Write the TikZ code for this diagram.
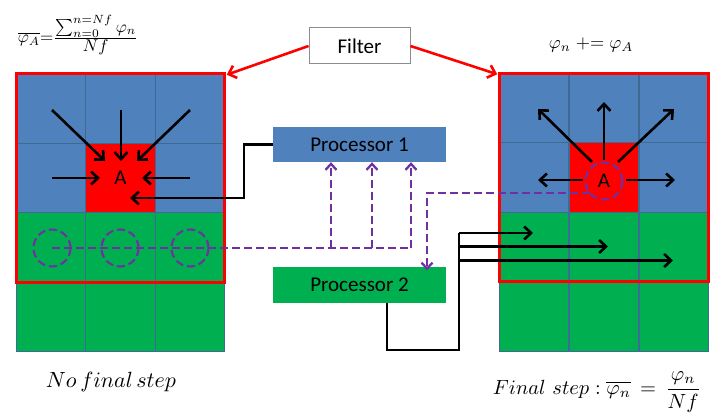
\documentclass[tikz,border=0pt]{standalone}
\usepackage{amsmath}
\usepackage{graphicx}
\usepackage{fontspec}
\newfontfamily\calfont{Carlito}
\usetikzlibrary{arrows.meta}
\definecolor{cblue}{HTML}{4F81BD}
\definecolor{cgreen}{HTML}{00B050}
\definecolor{cred}{HTML}{FF0000}
\definecolor{gridc}{HTML}{3F6A96}
\definecolor{cpurple}{HTML}{7030A0}
\definecolor{boxgray}{HTML}{8C8C8C}
\tikzset{
  cell/.style={draw=gridc, line width=1.2pt, minimum width=69.5pt, minimum height=69.5pt, inner sep=0pt, outer sep=0pt},
  barrow/.style={draw=black, line width=2.6pt, -{Straight Barb[length=7pt,width=13pt,line width=2.6pt]}},
  bline/.style={draw=black, line width=2.6pt},
  rarrow/.style={draw=cred, line width=2.6pt, -{Straight Barb[length=7pt,width=13pt,line width=2.6pt]}},
  parrow/.style={draw=cpurple, line width=2.3pt, dash pattern=on 8pt off 4pt, -{Straight Barb[length=6pt,width=11pt,line width=2.3pt]}},
  pline/.style={draw=cpurple, line width=2.3pt, dash pattern=on 8pt off 4pt},
  pcirc/.style={draw=cpurple, line width=2.1pt, dash pattern=on 8pt off 4pt, circle, minimum size=37pt, inner sep=0pt},
  procbox/.style={minimum width=173pt, minimum height=35pt, inner sep=0pt, font=\calfont\fontsize{21}{24}\selectfont},
  lab/.style={font=\calfont\fontsize{21}{24}\selectfont, inner sep=0pt},
  mathlab/.style={inner sep=0pt}
}
\begin{document}
\begin{tikzpicture}[x=1pt,y=-1pt]
\useasboundingbox (0,0) rectangle (711,419);
\fill[white] (0,0) rectangle (711,419);
% left grid
\foreach \c/\x in {1/51,2/120.5,3/190}{
  \node[cell, fill=cblue] (L1\c) at (\x,108.5) {};
  \node[cell, fill=cblue] (L2\c) at (\x,178) {};
  \node[cell, fill=cgreen] (L3\c) at (\x,247.5) {};
  \node[cell, fill=cgreen] (L4\c) at (\x,317) {};
}
\node[cell, fill=cred] (L22) at (120.5,178) {};
\draw[cred, line width=2.6pt] (L11.north west) rectangle (L33.south east);
% right grid
\foreach \c/\x in {1/534,2/604,3/674}{
  \node[cell, fill=cblue] (R1\c) at (\x,108) {};
  \node[cell, fill=cblue] (R2\c) at (\x,177.5) {};
  \node[cell, fill=cgreen] (R3\c) at (\x,247) {};
  \node[cell, fill=cgreen] (R4\c) at (\x,316.5) {};
}
\node[cell, fill=cred] (R22) at (604,177.5) {};
\draw[cred, line width=2.6pt] (R11.north west) rectangle (R33.south east);

% left A and arrows
\node[lab] (LA) at (120.5,178) {A};
\coordinate (la1) at (52,110);
\coordinate (la2) at (121,110);
\coordinate (la3) at (190,110);
\coordinate (la4) at (52,178);
\coordinate (la5) at (190,178);
\draw[barrow] (la1) -- (105,161);
\draw[barrow] (la2) -- (121,161);
\draw[barrow] (la3) -- (137,161);
\draw[barrow] (la4) -- (100,178);
\draw[barrow] (la5) -- (142,178);

% right A and arrows
\node[lab] (RA) at (604,181) {A};
\node[pcirc] (RC) at (604,181) {};
\draw[barrow] (592,162) -- (538,109);
\draw[barrow] (604,160) -- (604,102);
\draw[barrow] (618,162) -- (674,109);
\draw[barrow] (583,180) -- (538,180);
\draw[barrow] (626,180) -- (675,180);

% processors
\node[procbox, fill=cblue] (P1) at (359.5,144.5) {Processor 1};
\node[procbox, fill=cgreen] (P2) at (359.5,285) {Processor 2};

% filter
\node[lab, draw=boxgray, line width=1pt, fill=white, minimum width=101pt, minimum height=36pt] (F) at (359.5,46) {Filter};
\draw[rarrow] (F.west) -- ([shift={(2,1)}]L13.north east);
\draw[rarrow] (F.east) -- ([shift={(-2,1)}]R11.north west);

% black connector P1 -> left A
\coordinate (k1) at (244,198);
\draw[barrow] (P1.west) -| (k1) -- (130,198);

% dashed circles left
\node[pcirc] (C1) at (52,248) {};
\node[pcirc] (C2) at (120,248) {};
\node[pcirc] (C3) at (190,248) {};
\coordinate (d1) at (331,248);
\coordinate (d2) at (372,248);
\coordinate (d3) at (411,248);
\draw[pline] (C1.center) -- (d3);
\draw[parrow] (d1) -- (d1 |- P1.south);
\draw[parrow] (d2) -- (d2 |- P1.south);
\draw[parrow] (d3) -- (d3 |- P1.south);

% dashed from right A to P2
\coordinate (e1) at (590,193);
\coordinate (e2) at (427,193);
\draw[parrow] (e1) -- (e2) -- ([yshift=-3pt]e2 |- P2.north);

% black connector P2 -> right green cells
\coordinate (g1) at (387,350);
\coordinate (g2) at (459,350);
\coordinate (g3) at (459,233);
\draw[bline] (g1 |- P2.south) -- (g1) -- (g2) -- (g3);
\draw[barrow] (g3) -- (533,233);
\draw[barrow] (459,246.5) -- (608,246.5);
\draw[barrow] (459,260.5) -- (673,260.5);

% formulas
\node[mathlab] (f1) at (78,35) {\scalebox{1.7}{$\overline{\varphi_A}{=}\frac{\textstyle\sum_{n=0}^{n=Nf}\varphi_n}{\textstyle Nf}$}};
\node[mathlab] (f2) at (591,45) {\scalebox{1.83}{$\varphi_n \mathrel{+}= \varphi_A$}};
\node[mathlab] (f3) at (111,382) {\scalebox{2.2}{$No\,final\,step$}};
\node[mathlab] (f4) at (597,392) {\scalebox{2.05}{$Final\ step : \overline{\varphi_n}\, = \,\dfrac{\varphi_n}{Nf}$}};
\end{tikzpicture}
\end{document}
